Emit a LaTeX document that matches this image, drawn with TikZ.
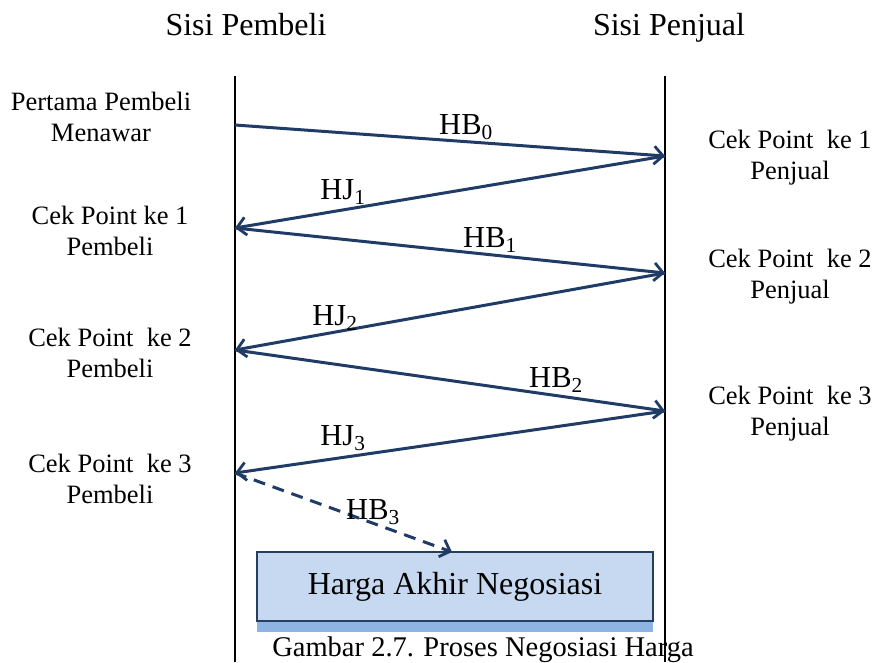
\documentclass[tikz,border=0pt]{standalone}
\usepackage{fontspec}
\setmainfont{Liberation Serif}
\usetikzlibrary{arrows.meta}
\definecolor{msgblue}{HTML}{1F3B66}
\definecolor{boxfill}{HTML}{C6D9F1}
\definecolor{boxedge}{HTML}{243F60}
\definecolor{boxshade}{HTML}{8EB4E3}
\tikzset{
  msg/.style={draw=msgblue, line width=3pt, -{Straight Barb[length=9pt,width=18pt,line width=2.8pt]}},
  msgdash/.style={msg, dash pattern=on 12pt off 8pt},
  side/.style={font=\fontsize{26.5}{31}\selectfont, align=center, inner sep=0pt},
  title/.style={font=\fontsize{32}{36}\selectfont, inner sep=0pt, anchor=base},
  msglabel/.style={font=\fontsize{30.5}{34}\selectfont, inner sep=0pt},
  lifeline/.style={draw=black, line width=1.4pt},
}
\begin{document}
\begin{tikzpicture}[x=1pt,y=-1pt]
\useasboundingbox (0,0) rectangle (877,662);

% column headings
\node[title] (hbuy) at (246,35) {Sisi Pembeli};
\node[title] (hsell) at (669,35) {Sisi Penjual};

% lifelines
\coordinate (ltop) at (235,76);
\coordinate (lbot) at (235,662);
\coordinate (rtop) at (665,76);
\coordinate (rbot) at (665,662);
\draw[lifeline] (ltop) -- (lbot);
\draw[lifeline] (rtop) -- (rbot);

% message end points
\coordinate (b0) at (235,125);
\coordinate (s1) at (665,156);
\coordinate (b1) at (235,228);
\coordinate (s2) at (665,273);
\coordinate (b2) at (235,350);
\coordinate (s3) at (665,411);
\coordinate (b3) at (235,473);

% final box with its shadow strip
\fill[boxshade] (257,560) rectangle (653,632);
\node[draw=boxedge, line width=1.3pt, fill=boxfill, minimum width=396pt, minimum height=69pt,
      inner sep=0pt, font=\fontsize{32}{36}\selectfont] (final) at (455,586.5) {Harga Akhir Negosiasi};
\coordinate (fin) at (452,552);

% messages
\draw[msg] (b0) -- (s1);
\draw[msg] (s1) -- (b1);
\draw[msg] (b1) -- (s2);
\draw[msg] (s2) -- (b2);
\draw[msg] (b2) -- (s3);
\draw[msg] (s3) -- (b3);
\draw[msgdash] (b3) -- (fin);

% message labels
\node[msglabel] (l0) at (466,127) {HB\textsubscript{0}};
\node[msglabel] (l1) at (343,192) {HJ\textsubscript{1}};
\node[msglabel] (l2) at (490,240) {HB\textsubscript{1}};
\node[msglabel] (l3) at (335,318) {HJ\textsubscript{2}};
\node[msglabel] (l4) at (556,380) {HB\textsubscript{2}};
\node[msglabel] (l5) at (343,438) {HJ\textsubscript{3}};
\node[msglabel] (l6) at (373,512) {HB\textsubscript{3}};

% buyer side notes
\node[side] (n0) at (101,117) {Pertama Pembeli\\Menawar};
\node[side] (n1) at (110,231) {Cek Point ke 1\\Pembeli};
\node[side] (n2) at (110,353) {Cek Point\ \ ke 2\\Pembeli};
\node[side] (n3) at (110,479) {Cek Point\ \ ke 3\\Pembeli};

% seller side notes
\node[side] (m1) at (790,158) {Cek Point\ \ ke 1\\Penjual};
\node[side] (m2) at (790,277) {Cek Point\ \ ke 2\\Penjual};
\node[side] (m3) at (790,414) {Cek Point\ \ ke 3\\Penjual};

% caption
\node[font=\fontsize{28.5}{32}\selectfont, inner sep=0pt] (cap) at (483,650) {Gambar 2.7. Proses Negosiasi Harga};
\end{tikzpicture}
\end{document}
